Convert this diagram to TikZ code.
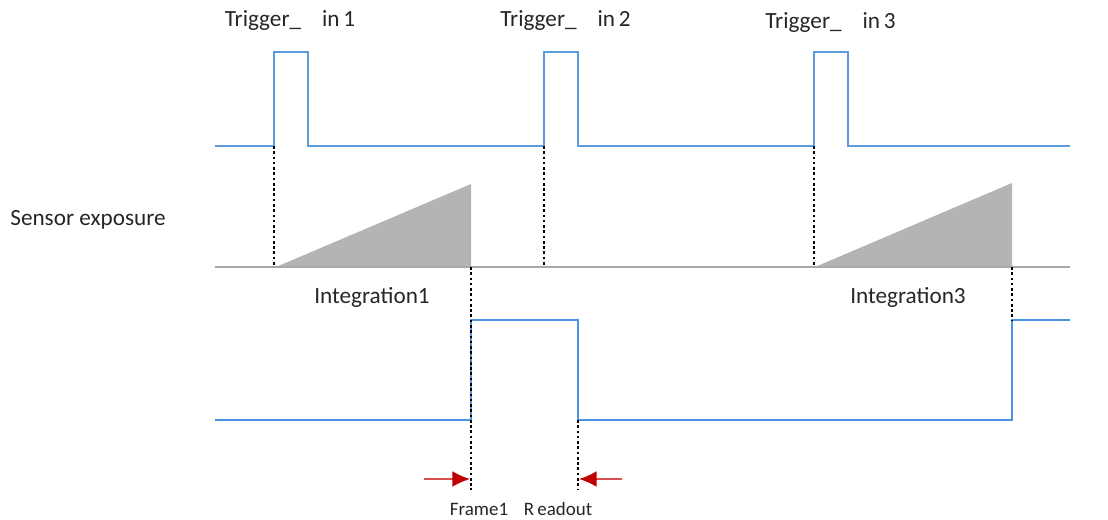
\documentclass[tikz,border=0pt]{standalone}
\usepackage{fontspec}
\setmainfont{Carlito}
\usetikzlibrary{arrows.meta}
\definecolor{sigblue}{RGB}{74,146,230}
\definecolor{trigblue}{RGB}{91,155,222}
\definecolor{arrred}{RGB}{192,0,0}
\definecolor{lnred}{RGB}{214,80,80}
\definecolor{expgray}{RGB}{180,180,180}
\definecolor{axisgray}{RGB}{168,168,168}
\tikzset{
  signal/.style={sigblue, line width=1.1pt},
  guide/.style={black, dash pattern=on 1.5pt off 1.5pt, line width=1.3pt},
  lbl/.style={font=\fontsize{13.2}{15}\selectfont, text=black!85},
  small/.style={font=\fontsize{10.8}{12}\selectfont, text=black!85},
  marker/.style={lnred, line width=1pt, -{Latex[arrred, length=10pt, width=9pt]}},
}
\begin{document}
\begin{tikzpicture}
			\useasboundingbox (0,0) rectangle (22.16,10.38);

			% Draw the trigger input line with its three pulses
			\draw[signal, trigblue] (4.30,7.46) -- (5.48,7.46) -- (5.48,9.34) -- (6.16,9.34) -- (6.16,7.46)
				-- (10.88,7.46) -- (10.88,9.34) -- (11.56,9.34) -- (11.56,7.46)
				-- (16.28,7.46) -- (16.28,9.34) -- (16.96,9.34) -- (16.96,7.46) -- (21.40,7.46);

			\node[lbl] (trig1) at (5.80, 9.96) {Trigger\_\hspace{0.9em}in\,1};
			\node[lbl] (trig2) at (11.31, 9.96) {Trigger\_\hspace{0.9em}in\,2};
			\node[lbl] (trig3) at (16.61, 9.92) {Trigger\_\hspace{0.9em}in\,3};

			% Draw the exposure ramps
			\fill[expgray] (5.52,5.04) -- (9.42,6.70) -- (9.42,5.04) -- cycle;
			\fill[expgray] (16.30,5.04) -- (20.24,6.72) -- (20.24,5.04) -- cycle;
			\draw[axisgray, line width=1pt] (4.30,5.04) -- (21.40,5.04);

			\node[lbl] (sensor) at (1.76, 5.98) {Sensor exposure};
			\node[lbl] (integ1) at (7.44, 4.44) {Integration1};
			\node[lbl] (integ3) at (18.16, 4.44) {Integration3};

			% Draw the readout line
			\draw[signal] (4.30,1.98) -- (9.42,1.98) -- (9.42,3.98) -- (11.56,3.98) -- (11.56,1.98)
				-- (20.24,1.98) -- (20.24,3.98) -- (21.40,3.98);

			% Draw the dotted guides
			\draw[guide] (5.48,7.46) -- (5.48,5.04);
			\draw[guide] (10.88,7.46) -- (10.88,5.04);
			\draw[guide] (16.28,7.46) -- (16.28,5.04);
			\draw[guide] (9.42,5.04) -- (9.42,0.58);
			\draw[guide] (11.56,1.98) -- (11.56,0.58);
			\draw[guide] (20.24,5.04) -- (20.24,3.98);

			% Draw the readout interval markers
			\draw[marker] (8.48,0.80) -- (9.40,0.80);
			\draw[marker] (12.44,0.80) -- (11.58,0.80);

			\node[small] (frame) at (9.58, 0.20) {Frame1};
			\node[small] (readout) at (11.16, 0.20) {R\,eadout};
		\end{tikzpicture}
\end{document}
